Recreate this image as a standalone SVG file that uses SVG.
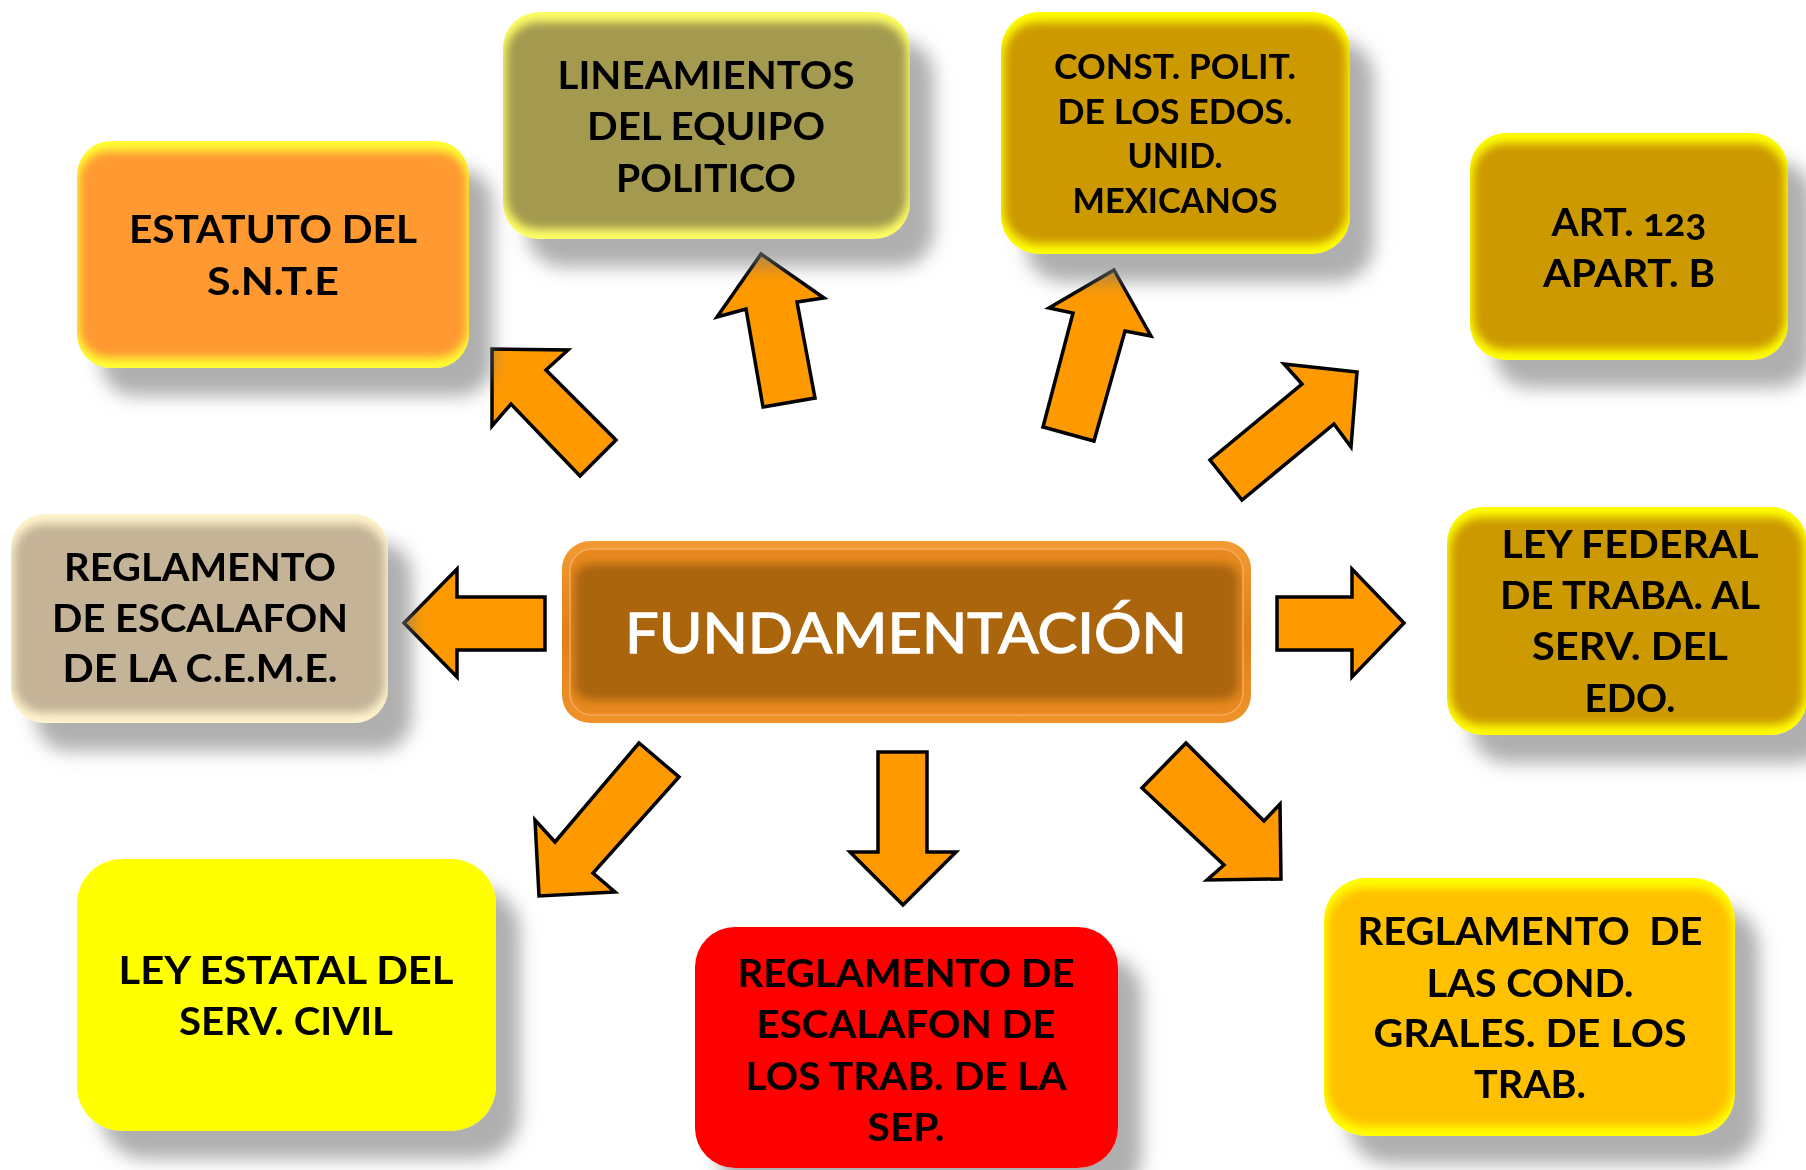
<svg xmlns="http://www.w3.org/2000/svg" width="1806" height="1170" viewBox="0 0 1806 1170">
<style>
.t{font-family:Lato,"Open Sans","DejaVu Sans",sans-serif;font-weight:bold;font-size:38px;fill:#000;text-anchor:middle}
.ts{font-size:34px}
.tc{font-family:Lato,"Open Sans","DejaVu Sans",sans-serif;font-weight:normal;font-size:57px;fill:#fff;stroke:#fff;stroke-width:1.3;text-anchor:middle}
.arr{fill:#FF9900;stroke:#000;stroke-width:3.5;stroke-linejoin:miter}
</style>
<defs>
<filter id="sh" x="-15%" y="-15%" width="140%" height="150%">
<feGaussianBlur in="SourceAlpha" stdDeviation="9"/>
<feOffset dx="24" dy="28" result="b"/>
<feFlood flood-color="#7a7a7a" flood-opacity="0.6"/>
<feComposite in2="b" operator="in"/>
<feMerge><feMergeNode/><feMergeNode in="SourceGraphic"/></feMerge>
</filter>
<filter id="soft" x="-10%" y="-10%" width="120%" height="120%"><feGaussianBlur stdDeviation="5"/></filter>
<linearGradient id="rim" x1="0" y1="0" x2="0" y2="1"><stop offset="0" stop-color="#F39B33"/><stop offset="0.5" stop-color="#E07F18"/><stop offset="1" stop-color="#F0922A"/></linearGradient>
<clipPath id="c1"><rect x="77" y="141" width="392" height="227" rx="34"/></clipPath>
<clipPath id="c2"><rect x="503" y="12" width="407" height="227" rx="36"/></clipPath>
<clipPath id="c3"><rect x="1001" y="12" width="349" height="242" rx="38"/></clipPath>
<clipPath id="c4"><rect x="1470" y="133" width="318" height="227" rx="36"/></clipPath>
<clipPath id="c5"><rect x="11" y="514" width="377" height="209" rx="34"/></clipPath>
<clipPath id="c6"><rect x="1447" y="507" width="360" height="228" rx="36"/></clipPath>
<clipPath id="c9"><rect x="1324" y="878" width="411" height="258" rx="42"/></clipPath>
<clipPath id="cc"><rect x="570" y="549" width="673" height="166" rx="22"/></clipPath>
</defs>

<g id="connectors">
<polygon class="arr" points="492,349 568,350 546,370 616,440 580,476 511,404 492,426"/>
<polygon class="arr" points="761,254 824,298 797,302 815,398 763,407 746,309 717,317"/>
<polygon class="arr" points="1114,270 1151,336 1125,331 1094,441 1043,427 1073,313 1049,308"/>
<polygon class="arr" points="1357,372 1284,364 1302,384 1210,460 1242,500 1334,424 1351,447"/>
<polygon class="arr" points="404,623 457,569 457,597 545,597 545,650 457,650 457,677"/>
<polygon class="arr" points="1404,623 1352,569 1352,597 1277,597 1277,650 1352,650 1352,677"/>
<polygon class="arr" points="539,896 535,820 555,842 639,743 679,777 593,873 615,892"/>
<polygon class="arr" points="878,752 927,752 927,852 956,852 903,905 850,852 878,852"/>
<polygon class="arr" points="1281,879 1280,804 1264,821 1186,743 1142,788 1224,865 1207,880"/>
</g>

<g id="n1" filter="url(#sh)">
<rect x="77" y="141" width="392" height="227" rx="34" fill="#FFFF33"/>
<g clip-path="url(#c1)"><rect x="79" y="151" width="388" height="207" rx="30" fill="#FF9933" filter="url(#soft)"/></g>
<text class="t" x="273" y="243" textLength="288" lengthAdjust="spacingAndGlyphs">ESTATUTO DEL</text>
<text class="t" x="273" y="295" textLength="132" lengthAdjust="spacingAndGlyphs">S.N.T.E</text>
</g>

<g id="n2" filter="url(#sh)">
<rect x="503" y="12" width="407" height="227" rx="36" fill="#FFFF66"/>
<g clip-path="url(#c2)"><rect x="506" y="22" width="401" height="207" rx="32" fill="#A39A4F" filter="url(#soft)"/></g>
<text class="t" x="706" y="89" textLength="297" lengthAdjust="spacingAndGlyphs">LINEAMIENTOS</text>
<text class="t" x="706" y="140" textLength="238" lengthAdjust="spacingAndGlyphs">DEL EQUIPO</text>
<text class="t" x="706" y="192" textLength="180" lengthAdjust="spacingAndGlyphs">POLITICO</text>
</g>

<g id="n3" filter="url(#sh)">
<rect x="1001" y="12" width="349" height="242" rx="38" fill="#FFFF00"/>
<g clip-path="url(#c3)"><rect x="1004" y="22" width="343" height="222" rx="34" fill="#CC9900" filter="url(#soft)"/></g>
<text class="t ts" x="1175" y="79" textLength="242" lengthAdjust="spacingAndGlyphs">CONST. POLIT.</text>
<text class="t ts" x="1175" y="124" textLength="235" lengthAdjust="spacingAndGlyphs">DE LOS EDOS.</text>
<text class="t ts" x="1175" y="168" textLength="95" lengthAdjust="spacingAndGlyphs">UNID.</text>
<text class="t ts" x="1175" y="213" textLength="205" lengthAdjust="spacingAndGlyphs">MEXICANOS</text>
</g>

<g id="n4" filter="url(#sh)">
<rect x="1470" y="133" width="318" height="227" rx="36" fill="#FFFF00"/>
<g clip-path="url(#c4)"><rect x="1473" y="143" width="312" height="207" rx="32" fill="#CC9900" filter="url(#soft)"/></g>
<text class="t" x="1629" y="236" textLength="155" lengthAdjust="spacingAndGlyphs" style="font-variant-numeric:oldstyle-nums">ART. 123</text>
<text class="t" x="1629" y="287" textLength="172" lengthAdjust="spacingAndGlyphs">APART. B</text>
</g>

<g id="n5" filter="url(#sh)">
<rect x="11" y="514" width="377" height="209" rx="34" fill="#FFF4CC"/>
<g clip-path="url(#c5)"><rect x="14" y="524" width="371" height="189" rx="30" fill="#C4B397" filter="url(#soft)"/></g>
<text class="t" x="200" y="581" textLength="272" lengthAdjust="spacingAndGlyphs">REGLAMENTO</text>
<text class="t" x="200" y="632" textLength="296" lengthAdjust="spacingAndGlyphs">DE ESCALAFON</text>
<text class="t" x="200" y="682" textLength="275" lengthAdjust="spacingAndGlyphs">DE LA C.E.M.E.</text>
</g>

<g id="center">
<rect x="562" y="541" width="689" height="182" rx="28" fill="url(#rim)"/>
<rect x="570" y="549" width="673" height="166" rx="22" fill="#E8891F"/>
<g clip-path="url(#cc)"><rect x="574" y="564" width="665" height="136" rx="16" fill="#AA6510" filter="url(#soft)"/></g>
<rect x="570" y="549" width="673" height="166" rx="22" fill="none" stroke="#F7B36A" stroke-width="1.5" stroke-opacity="0.8"/>
<text class="tc" x="906" y="653" textLength="562" lengthAdjust="spacingAndGlyphs">FUNDAMENTACIÓN</text>
</g>

<g id="n6" filter="url(#sh)">
<rect x="1447" y="507" width="360" height="228" rx="36" fill="#FFFF00"/>
<g clip-path="url(#c6)"><rect x="1450" y="517" width="354" height="208" rx="32" fill="#CC9900" filter="url(#soft)"/></g>
<text class="t" x="1630" y="558" textLength="257" lengthAdjust="spacingAndGlyphs">LEY FEDERAL</text>
<text class="t" x="1630" y="609" textLength="260" lengthAdjust="spacingAndGlyphs">DE TRABA. AL</text>
<text class="t" x="1630" y="660" textLength="196" lengthAdjust="spacingAndGlyphs">SERV. DEL</text>
<text class="t" x="1630" y="712" textLength="91" lengthAdjust="spacingAndGlyphs">EDO.</text>
</g>

<g id="n7" filter="url(#sh)">
<rect x="77" y="859" width="419" height="272" rx="45" fill="#FFFF00"/>
<text class="t" x="286" y="984" textLength="335" lengthAdjust="spacingAndGlyphs">LEY ESTATAL DEL</text>
<text class="t" x="286" y="1035" textLength="214" lengthAdjust="spacingAndGlyphs">SERV. CIVIL</text>
</g>

<g id="n8" filter="url(#sh)">
<rect x="695" y="927" width="423" height="241" rx="40" fill="#FF0000"/>
<text class="t" x="906" y="987" textLength="337" lengthAdjust="spacingAndGlyphs">REGLAMENTO DE</text>
<text class="t" x="906" y="1038" textLength="299" lengthAdjust="spacingAndGlyphs">ESCALAFON DE</text>
<text class="t" x="906" y="1090" textLength="321" lengthAdjust="spacingAndGlyphs">LOS TRAB. DE LA</text>
<text class="t" x="906" y="1141" textLength="77" lengthAdjust="spacingAndGlyphs">SEP.</text>
</g>

<g id="n9" filter="url(#sh)">
<rect x="1324" y="878" width="411" height="258" rx="42" fill="#FFFF00"/>
<g clip-path="url(#c9)"><rect x="1327" y="888" width="405" height="238" rx="38" fill="#FFC000" filter="url(#soft)"/></g>
<text class="t" x="1530" y="945" textLength="345" lengthAdjust="spacingAndGlyphs" xml:space="preserve">REGLAMENTO  DE</text>
<text class="t" x="1530" y="997" textLength="207" lengthAdjust="spacingAndGlyphs">LAS COND.</text>
<text class="t" x="1530" y="1047" textLength="313" lengthAdjust="spacingAndGlyphs">GRALES. DE LOS</text>
<text class="t" x="1530" y="1098" textLength="112" lengthAdjust="spacingAndGlyphs">TRAB.</text>
</g>
</svg>
